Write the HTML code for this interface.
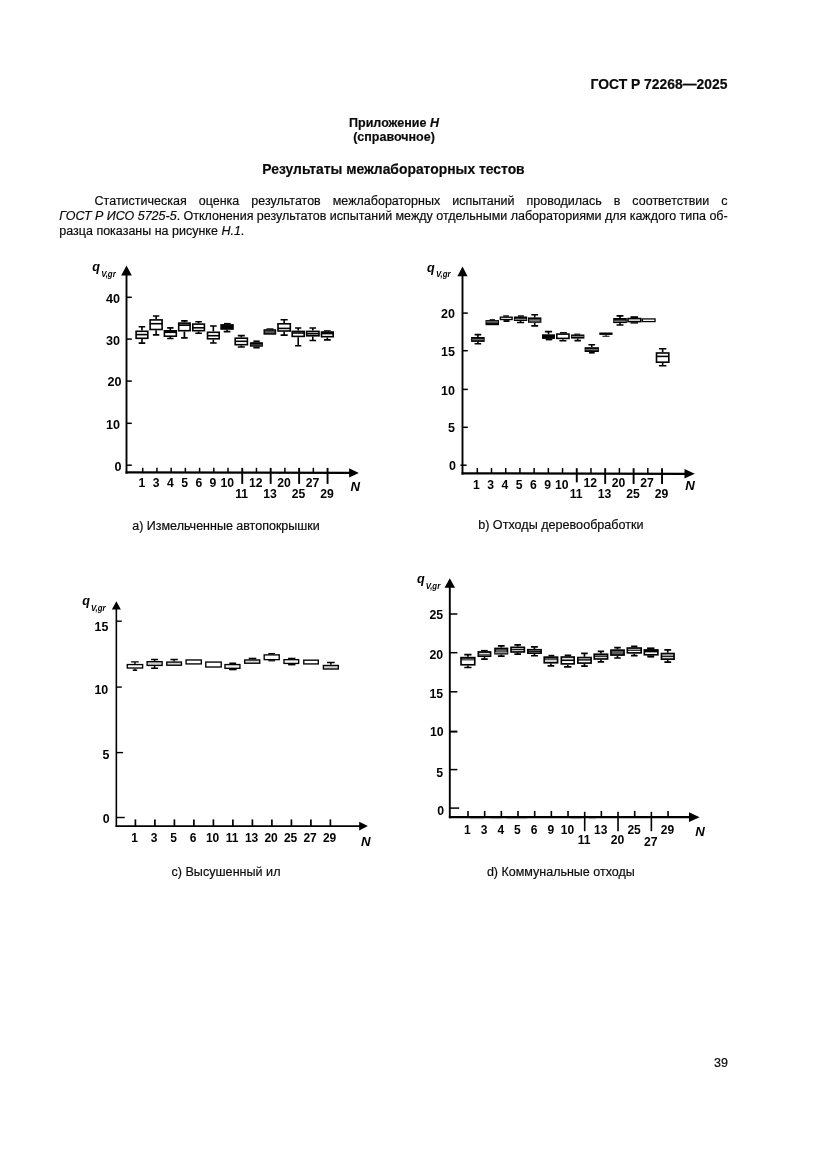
<!DOCTYPE html>
<html lang="ru"><head><meta charset="utf-8"><title>ГОСТ Р 72268—2025</title>
<style>
html,body{margin:0;padding:0;background:#fff}
body{width:827px;height:1169px;position:relative;overflow:hidden;font-family:"Liberation Sans",sans-serif;color:#0a0a0a;font-size:12.5px;line-height:15px}
.t{position:absolute;white-space:nowrap;-webkit-text-stroke:0.18px #0a0a0a}
.b{font-weight:bold}
.c{text-align:center}
.j{text-align:justify;text-align-last:justify;white-space:normal}
i{font-style:italic}
</style></head><body>
<div class="t b" style="right:99.6px;top:75.8px;font-size:13.89px;line-height:16px">ГОСТ Р 72268—2025</div>
<div class="t b c" style="left:294px;width:200px;top:115.8px">Приложение <i>Н</i></div>
<div class="t b c" style="left:294px;width:200px;top:129.5px">(справочное)</div>
<div class="t b c" style="left:243.5px;width:300px;top:161.0px;font-size:13.89px;line-height:16px">Результаты межлабораторных тестов</div>
<div class="t j" style="left:94.6px;width:633px;top:194.2px">Статистическая оценка результатов межлабораторных испытаний проводилась в соответствии с</div>
<div class="t" style="left:59.3px;top:209.4px;word-spacing:-0.08px"><i>ГОСТ Р ИСО 5725-5</i>. Отклонения результатов испытаний между отдельными лабораториями для каждого типа об-</div>
<div class="t" style="left:59.3px;top:224.2px">разца показаны на рисунке <i>Н.1</i>.</div>
<div class="t c" style="left:126px;width:200px;top:518.9px">а) Измельченные автопокрышки</div>
<div class="t c" style="left:460.9px;width:200px;top:517.7px;font-size:12.6px">b) Отходы деревообработки</div>
<div class="t c" style="left:126px;width:200px;top:864.7px;font-size:12.6px">с) Высушенный ил</div>
<div class="t c" style="left:460.8px;width:200px;top:864.7px">d) Коммунальные отходы</div>
<div class="t" style="right:99.0px;top:1056.4px;font-size:12.5px">39</div>
<svg width="827" height="1169" viewBox="0 0 827 1169" style="position:absolute;left:0;top:0" font-family="Liberation Sans, sans-serif" fill="#000" stroke="#000" stroke-linecap="butt"><path d="M126.50 274.60V473.75" stroke-width="1.9"/><path d="M125.55 472.40L350.10 472.90" stroke-width="2.2"/><path d="M126.50 265.60L121.20 275.60H131.80Z" fill="#000" stroke="none"/><path d="M358.90 472.90L349.10 468.20V477.60Z" fill="#000" stroke="none"/>
<path d="M126.50 297.30L131.80 297.30" stroke-width="1.5"/>
<text stroke="none" x="120.00" y="302.90" font-size="12.6" text-anchor="end" font-weight="bold">40</text>
<path d="M126.50 339.10L131.80 339.10" stroke-width="1.5"/>
<text stroke="none" x="120.00" y="344.80" font-size="12.6" text-anchor="end" font-weight="bold">30</text>
<path d="M126.50 381.10L131.80 381.10" stroke-width="1.5"/>
<text stroke="none" x="121.40" y="385.80" font-size="12.6" text-anchor="end" font-weight="bold">20</text>
<path d="M126.50 423.30L131.80 423.30" stroke-width="1.5"/>
<text stroke="none" x="120.10" y="429.00" font-size="12.6" text-anchor="end" font-weight="bold">10</text>
<path d="M126.50 465.20L131.80 465.20" stroke-width="1.5"/>
<text stroke="none" x="121.40" y="471.20" font-size="12.6" text-anchor="end" font-weight="bold">0</text>
<path d="M142.70 467.80L142.70 472.65" stroke-width="1.5"/>
<text stroke="none" x="141.90" y="486.70" font-size="12.2" text-anchor="middle" font-weight="bold">1</text>
<path d="M156.92 467.80L156.92 472.65" stroke-width="1.5"/>
<text stroke="none" x="156.12" y="486.70" font-size="12.2" text-anchor="middle" font-weight="bold">3</text>
<path d="M171.14 467.80L171.14 472.65" stroke-width="1.5"/>
<text stroke="none" x="170.34" y="486.70" font-size="12.2" text-anchor="middle" font-weight="bold">4</text>
<path d="M185.36 467.80L185.36 472.65" stroke-width="1.5"/>
<text stroke="none" x="184.56" y="486.70" font-size="12.2" text-anchor="middle" font-weight="bold">5</text>
<path d="M199.58 467.80L199.58 472.65" stroke-width="1.5"/>
<text stroke="none" x="198.78" y="486.70" font-size="12.2" text-anchor="middle" font-weight="bold">6</text>
<path d="M213.80 467.80L213.80 472.65" stroke-width="1.5"/>
<text stroke="none" x="213.00" y="486.70" font-size="12.2" text-anchor="middle" font-weight="bold">9</text>
<path d="M228.02 467.80L228.02 472.65" stroke-width="1.5"/>
<text stroke="none" x="227.22" y="486.70" font-size="12.2" text-anchor="middle" font-weight="bold">10</text>
<path d="M242.24 467.90L242.24 483.90" stroke-width="1.9"/>
<text stroke="none" x="241.64" y="497.60" font-size="12.2" text-anchor="middle" font-weight="bold">11</text>
<path d="M256.46 467.80L256.46 472.65" stroke-width="1.5"/>
<text stroke="none" x="255.66" y="486.70" font-size="12.2" text-anchor="middle" font-weight="bold">12</text>
<path d="M270.68 467.90L270.68 483.90" stroke-width="1.9"/>
<text stroke="none" x="270.08" y="497.60" font-size="12.2" text-anchor="middle" font-weight="bold">13</text>
<path d="M284.90 467.80L284.90 472.65" stroke-width="1.5"/>
<text stroke="none" x="284.10" y="486.70" font-size="12.2" text-anchor="middle" font-weight="bold">20</text>
<path d="M299.12 467.90L299.12 483.90" stroke-width="1.9"/>
<text stroke="none" x="298.52" y="497.60" font-size="12.2" text-anchor="middle" font-weight="bold">25</text>
<path d="M313.34 467.80L313.34 472.65" stroke-width="1.5"/>
<text stroke="none" x="312.54" y="486.70" font-size="12.2" text-anchor="middle" font-weight="bold">27</text>
<path d="M327.56 467.90L327.56 483.90" stroke-width="1.9"/>
<text stroke="none" x="326.96" y="497.60" font-size="12.2" text-anchor="middle" font-weight="bold">29</text>
<text stroke="none" x="355.20" y="490.60" font-size="13.2" text-anchor="middle" font-weight="bold" font-style="italic">N</text>
<text stroke="none" x="92.20" y="271.20" font-size="12.6" text-anchor="start" font-weight="bold" font-style="italic">q</text>
<text stroke="none" x="101.20" y="276.50" font-size="8.6" text-anchor="start" font-weight="bold" font-style="italic" textLength="14.5" lengthAdjust="spacingAndGlyphs">V,gr</text>
<path d="M141.95 330.50V326.70M138.65 326.70H145.25" stroke-width="1.6"/><path d="M141.95 339.10V343.10M138.65 343.10H145.25" stroke-width="1.6"/><rect x="136.10" y="331.30" width="11.70" height="7.00" fill="#fff" stroke-width="1.6"/><path d="M136.10 334.60H147.80" stroke-width="1.6"/>
<path d="M156.10 319.10V316.00M152.90 316.00H159.30" stroke-width="1.6"/><path d="M156.10 330.30V334.90M152.90 334.90H159.30" stroke-width="1.6"/><rect x="150.10" y="319.90" width="12.00" height="9.60" fill="#fff" stroke-width="1.6"/><path d="M150.10 323.70H162.10" stroke-width="1.6"/>
<path d="M170.35 330.00V327.80M167.15 327.80H173.55" stroke-width="1.7"/><path d="M170.35 337.00V338.50M167.15 338.50H173.55" stroke-width="1.7"/><rect x="164.40" y="330.80" width="11.90" height="5.40" fill="#fff" stroke-width="1.6"/><path d="M164.40 331.90H176.30" stroke-width="2.4"/>
<path d="M184.40 322.30V320.90M181.15 320.90H187.65" stroke-width="1.7"/><path d="M184.40 331.50V337.80M181.15 337.80H187.65" stroke-width="1.7"/><rect x="178.70" y="323.10" width="11.40" height="2.10" fill="#9a9a9a" stroke="none"/><rect x="178.70" y="325.20" width="11.40" height="5.50" fill="#fff" stroke="none"/><rect x="178.70" y="323.10" width="11.40" height="7.60" fill="none" stroke-width="1.6"/><path d="M178.70 325.20H190.10" stroke-width="1.6"/>
<path d="M198.60 323.30V321.80M195.30 321.80H201.90" stroke-width="1.6"/><path d="M198.60 331.50V333.30M195.30 333.30H201.90" stroke-width="1.6"/><rect x="192.80" y="324.10" width="11.60" height="6.60" fill="#fff" stroke-width="1.6"/><path d="M192.80 327.80H204.40" stroke-width="1.6"/>
<path d="M213.35 331.50V326.00M210.05 326.00H216.65" stroke-width="1.6"/><path d="M213.35 339.60V343.00M210.05 343.00H216.65" stroke-width="1.6"/><rect x="207.50" y="332.30" width="11.70" height="6.50" fill="#fff" stroke-width="1.6"/><path d="M207.50 335.70H219.20" stroke-width="1.6"/>
<path d="M227.05 329.80V331.60M223.70 331.60H230.40" stroke-width="1.6"/><rect x="221.10" y="324.90" width="11.90" height="4.10" fill="#000" stroke-width="1.6"/><rect x="224.00" y="322.90" width="6.70" height="1.40" fill="#000" stroke="none"/>
<path d="M241.30 337.40V335.60M237.80 335.60H244.80" stroke-width="1.6"/><path d="M241.30 345.50V347.00M237.80 347.00H244.80" stroke-width="1.6"/><rect x="235.20" y="338.20" width="12.20" height="6.50" fill="#fff" stroke-width="1.6"/><path d="M235.20 341.30H247.40" stroke-width="1.6"/>
<rect x="250.70" y="343.00" width="11.40" height="2.90" fill="#000" stroke-width="1.6"/><path d="M250.70 344.90H262.10" stroke-width="0.8" stroke="#777"/><rect x="253.40" y="340.40" width="6.30" height="1.90" fill="#000" stroke="none"/><rect x="253.40" y="346.60" width="6.30" height="1.90" fill="#000" stroke="none"/>
<rect x="264.30" y="330.00" width="11.10" height="3.90" fill="#9a9a9a" stroke-width="1.6"/><path d="M264.30 331.20H275.40" stroke-width="0.9" stroke="#222"/><path d="M264.30 332.90H275.40" stroke-width="0.9" stroke="#222"/><rect x="266.50" y="328.30" width="7.00" height="1.10" fill="#000" stroke="none"/>
<path d="M284.15 323.00V319.70M280.60 319.70H287.70" stroke-width="1.6"/><path d="M284.15 331.80V335.10M280.60 335.10H287.70" stroke-width="1.6"/><rect x="278.00" y="323.80" width="12.30" height="7.20" fill="#fff" stroke-width="1.6"/><path d="M278.00 328.40H290.30" stroke-width="1.6"/>
<path d="M298.20 330.60V328.00M295.10 328.00H301.30" stroke-width="1.6"/><path d="M298.20 337.20V345.70M295.10 345.70H301.30" stroke-width="1.6"/><rect x="292.20" y="331.40" width="12.00" height="5.00" fill="#fff" stroke-width="1.6"/><path d="M292.20 333.00H304.20" stroke-width="1.6"/>
<path d="M312.80 330.60V328.00M309.50 328.00H316.10" stroke-width="1.6"/><path d="M312.80 336.60V340.50M309.50 340.50H316.10" stroke-width="1.6"/><rect x="306.60" y="331.40" width="12.40" height="2.20" fill="#fff" stroke="none"/><rect x="306.60" y="333.60" width="12.40" height="2.20" fill="#c8c8c8" stroke="none"/><rect x="306.60" y="331.40" width="12.40" height="4.40" fill="none" stroke-width="1.6"/><path d="M306.60 333.60H319.00" stroke-width="1.6"/>
<path d="M327.35 337.50V339.90M323.95 339.90H330.75" stroke-width="1.6"/><rect x="321.50" y="332.00" width="11.70" height="2.60" fill="#000" stroke="none"/><rect x="321.50" y="334.60" width="11.70" height="2.10" fill="#fff" stroke="none"/><rect x="321.50" y="332.00" width="11.70" height="4.70" fill="none" stroke-width="1.6"/><rect x="324.00" y="330.20" width="6.70" height="1.20" fill="#000" stroke="none"/>
<path d="M462.50 275.30V474.70" stroke-width="1.9"/><path d="M461.55 473.35L685.50 473.85" stroke-width="2.2"/><path d="M462.50 266.40L457.40 276.30H467.60Z" fill="#000" stroke="none"/><path d="M694.80 473.85L684.50 469.10V478.60Z" fill="#000" stroke="none"/>
<path d="M462.50 313.10L467.80 313.10" stroke-width="1.5"/>
<text stroke="none" x="455.00" y="318.20" font-size="12.5" text-anchor="end" font-weight="bold">20</text>
<path d="M462.50 350.70L467.80 350.70" stroke-width="1.5"/>
<text stroke="none" x="455.00" y="355.80" font-size="12.5" text-anchor="end" font-weight="bold">15</text>
<path d="M462.50 389.40L467.80 389.40" stroke-width="1.5"/>
<text stroke="none" x="455.00" y="394.50" font-size="12.5" text-anchor="end" font-weight="bold">10</text>
<path d="M462.50 427.30L467.80 427.30" stroke-width="1.5"/>
<text stroke="none" x="455.00" y="432.40" font-size="12.5" text-anchor="end" font-weight="bold">5</text>
<path d="M460.50 465.20L466.60 465.20" stroke-width="1.5"/>
<text stroke="none" x="455.90" y="470.30" font-size="12.5" text-anchor="end" font-weight="bold">0</text>
<path d="M477.30 468.00L477.30 473.60" stroke-width="1.5"/>
<text stroke="none" x="476.50" y="488.80" font-size="12.2" text-anchor="middle" font-weight="bold">1</text>
<path d="M491.51 468.00L491.51 473.60" stroke-width="1.5"/>
<text stroke="none" x="490.71" y="488.80" font-size="12.2" text-anchor="middle" font-weight="bold">3</text>
<path d="M505.72 468.00L505.72 473.60" stroke-width="1.5"/>
<text stroke="none" x="504.92" y="488.80" font-size="12.2" text-anchor="middle" font-weight="bold">4</text>
<path d="M519.93 468.00L519.93 473.60" stroke-width="1.5"/>
<text stroke="none" x="519.13" y="488.80" font-size="12.2" text-anchor="middle" font-weight="bold">5</text>
<path d="M534.14 468.00L534.14 473.60" stroke-width="1.5"/>
<text stroke="none" x="533.34" y="488.80" font-size="12.2" text-anchor="middle" font-weight="bold">6</text>
<path d="M548.35 468.00L548.35 473.60" stroke-width="1.5"/>
<text stroke="none" x="547.55" y="488.80" font-size="12.2" text-anchor="middle" font-weight="bold">9</text>
<path d="M562.56 468.00L562.56 473.60" stroke-width="1.5"/>
<text stroke="none" x="561.76" y="488.80" font-size="12.2" text-anchor="middle" font-weight="bold">10</text>
<path d="M576.77 468.20L576.77 482.40" stroke-width="1.9"/>
<text stroke="none" x="576.17" y="497.60" font-size="12.2" text-anchor="middle" font-weight="bold">11</text>
<path d="M590.98 468.00L590.98 473.60" stroke-width="1.5"/>
<text stroke="none" x="590.18" y="487.20" font-size="12.2" text-anchor="middle" font-weight="bold">12</text>
<path d="M605.19 468.20L605.19 483.90" stroke-width="1.9"/>
<text stroke="none" x="604.59" y="497.60" font-size="12.2" text-anchor="middle" font-weight="bold">13</text>
<path d="M619.40 468.00L619.40 473.60" stroke-width="1.5"/>
<text stroke="none" x="618.60" y="487.20" font-size="12.2" text-anchor="middle" font-weight="bold">20</text>
<path d="M633.61 468.20L633.61 483.90" stroke-width="1.9"/>
<text stroke="none" x="633.01" y="497.60" font-size="12.2" text-anchor="middle" font-weight="bold">25</text>
<path d="M647.82 468.00L647.82 473.60" stroke-width="1.5"/>
<text stroke="none" x="647.02" y="487.20" font-size="12.2" text-anchor="middle" font-weight="bold">27</text>
<path d="M662.03 468.20L662.03 483.90" stroke-width="1.9"/>
<text stroke="none" x="661.43" y="497.60" font-size="12.2" text-anchor="middle" font-weight="bold">29</text>
<text stroke="none" x="690.10" y="490.10" font-size="13.2" text-anchor="middle" font-weight="bold" font-style="italic">N</text>
<text stroke="none" x="427.10" y="272.00" font-size="12.6" text-anchor="start" font-weight="bold" font-style="italic">q</text>
<text stroke="none" x="436.00" y="277.10" font-size="8.6" text-anchor="start" font-weight="bold" font-style="italic" textLength="14.5" lengthAdjust="spacingAndGlyphs">V,gr</text>
<path d="M477.90 337.00V334.60M474.60 334.60H481.20" stroke-width="1.6"/><path d="M477.90 341.90V343.80M474.60 343.80H481.20" stroke-width="1.6"/><rect x="471.90" y="337.80" width="12.00" height="3.30" fill="#3a3a3a" stroke-width="1.6"/><path d="M471.90 339.70H483.90" stroke-width="0.9" stroke="#7d7d7d"/>
<rect x="486.30" y="320.90" width="11.90" height="3.50" fill="#1c1c1c" stroke-width="1.6"/><path d="M486.30 321.90H498.20" stroke-width="0.9" stroke="#a8a8a8"/><rect x="489.60" y="319.20" width="5.40" height="1.10" fill="#000" stroke="none"/>
<rect x="500.38" y="317.18" width="11.75" height="2.35" fill="#fff" stroke-width="1.35"/><rect x="503.20" y="315.30" width="5.70" height="1.40" fill="#000" stroke="none"/><rect x="503.50" y="320.10" width="6.00" height="1.90" fill="#000" stroke="none"/>
<path d="M520.55 321.00V322.50M516.95 322.50H524.15" stroke-width="1.6"/><rect x="514.70" y="317.30" width="11.70" height="2.90" fill="#2a2a2a" stroke-width="1.6"/><path d="M514.70 319.40H526.40" stroke-width="0.9" stroke="#9a9a9a"/><rect x="517.90" y="315.30" width="6.00" height="1.40" fill="#000" stroke="none"/>
<path d="M534.70 317.40V314.70M531.30 314.70H538.10" stroke-width="1.6"/><path d="M534.70 322.80V325.90M531.30 325.90H538.10" stroke-width="1.6"/><rect x="528.80" y="318.20" width="11.80" height="3.80" fill="#6e6e6e" stroke-width="1.6"/><path d="M528.80 319.60H540.60" stroke-width="0.8" stroke="#444"/><path d="M528.80 321.00H540.60" stroke-width="0.8" stroke="#999"/>
<path d="M548.50 334.30V331.60M544.90 331.60H552.10" stroke-width="1.6"/><rect x="542.80" y="335.10" width="11.40" height="3.00" fill="#000" stroke-width="1.6"/><rect x="545.70" y="338.80" width="6.60" height="1.60" fill="#000" stroke="none"/>
<path d="M562.90 339.20V340.70M559.40 340.70H566.40" stroke-width="1.6"/><rect x="556.80" y="334.10" width="12.20" height="4.30" fill="#fff" stroke-width="1.6"/><rect x="560.00" y="332.10" width="6.90" height="1.40" fill="#000" stroke="none"/>
<path d="M577.70 338.60V340.60M574.50 340.60H580.90" stroke-width="1.6"/><rect x="571.80" y="335.30" width="11.80" height="2.50" fill="#2a2a2a" stroke-width="1.6"/><path d="M571.80 336.40H583.60" stroke-width="0.9" stroke="#999"/><rect x="574.20" y="333.60" width="6.00" height="1.10" fill="#000" stroke="none"/>
<path d="M591.75 347.20V344.80M588.40 344.80H595.10" stroke-width="1.6"/><rect x="585.40" y="348.00" width="12.70" height="3.20" fill="#2a2a2a" stroke-width="1.6"/><path d="M585.40 349.70H598.10" stroke-width="0.9" stroke="#8a8a8a"/><rect x="589.00" y="351.90" width="5.70" height="1.70" fill="#000" stroke="none"/>
<path d="M605.95 334.90V336.20M602.35 336.20H609.55" stroke-width="1.1"/><rect x="600.10" y="333.30" width="11.70" height="0.80" fill="#000" stroke-width="1.6"/>
<path d="M620.00 318.00V315.90M616.55 315.90H623.45" stroke-width="1.6"/><path d="M620.00 323.10V325.00M616.55 325.00H623.45" stroke-width="1.6"/><rect x="614.00" y="318.80" width="12.00" height="3.50" fill="#2a2a2a" stroke-width="1.6"/><path d="M614.00 321.20H626.00" stroke-width="0.9" stroke="#a0a0a0"/>
<rect x="628.00" y="318.60" width="12.80" height="3.00" fill="#fff" stroke-width="1.6"/><rect x="630.50" y="316.20" width="7.50" height="1.80" fill="#000" stroke="none"/><rect x="630.50" y="322.20" width="7.50" height="1.40" fill="#000" stroke="none"/>
<rect x="642.42" y="318.93" width="12.65" height="2.65" fill="#fff" stroke-width="1.25"/>
<path d="M662.65 352.20V348.80M658.95 348.80H666.35" stroke-width="1.6"/><path d="M662.65 363.00V365.80M658.95 365.80H666.35" stroke-width="1.6"/><rect x="656.50" y="353.00" width="12.30" height="9.20" fill="#fff" stroke-width="1.6"/><path d="M656.50 356.40H668.80" stroke-width="1.6"/>
<path d="M116.35 608.60V826.90" stroke-width="1.6"/><path d="M115.55 826.10L360.20 826.10" stroke-width="1.6"/><path d="M116.35 601.30L111.85 609.60H120.85Z" fill="#000" stroke="none"/><path d="M367.90 826.10L359.20 821.75V830.45Z" fill="#000" stroke="none"/>
<path d="M116.35 621.20L121.80 621.20" stroke-width="1.4"/>
<text stroke="none" x="108.30" y="630.60" font-size="12.4" text-anchor="end" font-weight="bold">15</text>
<path d="M116.35 687.10L121.80 687.10" stroke-width="1.4"/>
<text stroke="none" x="108.20" y="693.70" font-size="12.4" text-anchor="end" font-weight="bold">10</text>
<path d="M116.35 752.60L123.10 752.60" stroke-width="1.4"/>
<text stroke="none" x="109.30" y="758.60" font-size="12.4" text-anchor="end" font-weight="bold">5</text>
<path d="M116.35 817.50L124.80 817.50" stroke-width="1.4"/>
<text stroke="none" x="109.70" y="823.40" font-size="12.4" text-anchor="end" font-weight="bold">0</text>
<path d="M135.40 819.40L135.40 826.10" stroke-width="1.7"/>
<text stroke="none" x="134.60" y="841.80" font-size="12.0" text-anchor="middle" font-weight="bold">1</text>
<path d="M154.90 819.40L154.90 826.10" stroke-width="1.7"/>
<text stroke="none" x="154.10" y="841.80" font-size="12.0" text-anchor="middle" font-weight="bold">3</text>
<path d="M174.40 819.40L174.40 826.10" stroke-width="1.7"/>
<text stroke="none" x="173.60" y="841.80" font-size="12.0" text-anchor="middle" font-weight="bold">5</text>
<path d="M193.90 819.40L193.90 826.10" stroke-width="1.7"/>
<text stroke="none" x="193.10" y="841.80" font-size="12.0" text-anchor="middle" font-weight="bold">6</text>
<path d="M213.40 819.40L213.40 826.10" stroke-width="1.7"/>
<text stroke="none" x="212.60" y="841.80" font-size="12.0" text-anchor="middle" font-weight="bold">10</text>
<path d="M232.90 819.40L232.90 826.10" stroke-width="1.7"/>
<text stroke="none" x="232.10" y="841.80" font-size="12.0" text-anchor="middle" font-weight="bold">11</text>
<path d="M252.40 819.40L252.40 826.10" stroke-width="1.7"/>
<text stroke="none" x="251.60" y="841.80" font-size="12.0" text-anchor="middle" font-weight="bold">13</text>
<path d="M271.90 819.40L271.90 826.10" stroke-width="1.7"/>
<text stroke="none" x="271.10" y="841.80" font-size="12.0" text-anchor="middle" font-weight="bold">20</text>
<path d="M291.40 819.40L291.40 826.10" stroke-width="1.7"/>
<text stroke="none" x="290.60" y="841.80" font-size="12.0" text-anchor="middle" font-weight="bold">25</text>
<path d="M310.90 819.40L310.90 826.10" stroke-width="1.7"/>
<text stroke="none" x="310.10" y="841.80" font-size="12.0" text-anchor="middle" font-weight="bold">27</text>
<path d="M330.40 819.40L330.40 826.10" stroke-width="1.7"/>
<text stroke="none" x="329.60" y="841.80" font-size="12.0" text-anchor="middle" font-weight="bold">29</text>
<text stroke="none" x="365.80" y="845.70" font-size="13.2" text-anchor="middle" font-weight="bold" font-style="italic">N</text>
<text stroke="none" x="82.20" y="605.10" font-size="12.6" text-anchor="start" font-weight="bold" font-style="italic">q</text>
<text stroke="none" x="91.00" y="610.70" font-size="8.6" text-anchor="start" font-weight="bold" font-style="italic" textLength="14.5" lengthAdjust="spacingAndGlyphs">V,gr</text>
<path d="M134.95 663.90V661.90M131.15 661.90H138.75" stroke-width="1.35"/><path d="M134.95 668.70V670.20M132.75 670.20H137.15" stroke-width="1.35"/><rect x="127.27" y="664.57" width="15.35" height="3.45" fill="#fff" stroke-width="1.35"/>
<path d="M154.60 661.00V659.50M151.10 659.50H158.10" stroke-width="1.5"/><path d="M154.60 666.10V668.20M151.10 668.20H158.10" stroke-width="1.5"/><rect x="147.08" y="661.67" width="15.05" height="3.75" fill="#d0d0d0" stroke-width="1.35"/>
<path d="M174.10 661.40V659.50M170.40 659.50H177.80" stroke-width="1.5"/><rect x="166.78" y="662.07" width="14.65" height="3.15" fill="#d0d0d0" stroke-width="1.35"/>
<rect x="186.08" y="659.97" width="15.25" height="3.95" fill="#fff" stroke-width="1.35"/>
<rect x="205.78" y="662.07" width="15.45" height="4.95" fill="#fff" stroke-width="1.35"/>
<rect x="224.98" y="664.57" width="14.95" height="3.75" fill="#f0f0f0" stroke-width="1.35"/><rect x="229.30" y="662.50" width="6.80" height="1.50" fill="#000" stroke="none"/><rect x="229.00" y="668.90" width="7.60" height="1.40" fill="#000" stroke="none"/>
<rect x="244.68" y="659.97" width="15.05" height="3.25" fill="#d8d8d8" stroke-width="1.35"/><rect x="248.70" y="657.70" width="7.60" height="1.70" fill="#000" stroke="none"/>
<rect x="264.18" y="654.88" width="15.05" height="4.75" fill="#fff" stroke-width="1.35"/><rect x="268.30" y="653.00" width="6.80" height="1.30" fill="#000" stroke="none"/><rect x="268.30" y="660.20" width="6.80" height="1.20" fill="#000" stroke="none"/>
<rect x="283.98" y="659.67" width="14.65" height="3.75" fill="#fff" stroke-width="1.35"/><rect x="288.10" y="657.70" width="7.30" height="1.40" fill="#000" stroke="none"/><rect x="288.10" y="664.00" width="7.30" height="1.40" fill="#000" stroke="none"/>
<rect x="303.78" y="660.17" width="14.55" height="3.75" fill="#fff" stroke-width="1.35"/>
<path d="M330.85 664.80V662.40M327.05 662.40H334.65" stroke-width="1.5"/><rect x="323.38" y="665.47" width="14.95" height="3.55" fill="#d0d0d0" stroke-width="1.35"/>
<path d="M449.80 586.80V818.20" stroke-width="1.9"/><path d="M448.85 817.15L690.00 817.15" stroke-width="2.1"/><path d="M449.80 578.30L444.55 587.80H455.05Z" fill="#000" stroke="none"/><path d="M699.60 817.15L689.00 812.20V822.10Z" fill="#000" stroke="none"/>
<path d="M449.80 614.00L457.40 614.00" stroke-width="1.5"/>
<text stroke="none" x="443.10" y="618.90" font-size="12.3" text-anchor="end" font-weight="bold">25</text>
<path d="M449.80 652.70L457.40 652.70" stroke-width="1.5"/>
<text stroke="none" x="443.10" y="658.90" font-size="12.3" text-anchor="end" font-weight="bold">20</text>
<path d="M449.80 691.80L457.40 691.80" stroke-width="1.5"/>
<text stroke="none" x="443.10" y="697.60" font-size="12.3" text-anchor="end" font-weight="bold">15</text>
<path d="M449.80 731.60L457.40 731.60" stroke-width="2.0"/>
<text stroke="none" x="443.70" y="735.80" font-size="12.3" text-anchor="end" font-weight="bold">10</text>
<path d="M449.80 769.60L457.40 769.60" stroke-width="1.5"/>
<text stroke="none" x="443.10" y="776.90" font-size="12.3" text-anchor="end" font-weight="bold">5</text>
<path d="M449.80 808.10L459.20 808.10" stroke-width="1.5"/>
<text stroke="none" x="444.10" y="815.10" font-size="12.3" text-anchor="end" font-weight="bold">0</text>
<path d="M468.00 810.90L468.00 817.15" stroke-width="1.6"/>
<text stroke="none" x="467.40" y="833.80" font-size="12.0" text-anchor="middle" font-weight="bold">1</text>
<path d="M484.67 810.90L484.67 817.15" stroke-width="1.6"/>
<text stroke="none" x="484.07" y="833.80" font-size="12.0" text-anchor="middle" font-weight="bold">3</text>
<path d="M501.34 810.90L501.34 817.15" stroke-width="1.6"/>
<text stroke="none" x="500.74" y="833.80" font-size="12.0" text-anchor="middle" font-weight="bold">4</text>
<path d="M518.01 810.90L518.01 817.15" stroke-width="1.6"/>
<text stroke="none" x="517.41" y="833.80" font-size="12.0" text-anchor="middle" font-weight="bold">5</text>
<path d="M534.68 810.90L534.68 817.15" stroke-width="1.6"/>
<text stroke="none" x="534.08" y="833.80" font-size="12.0" text-anchor="middle" font-weight="bold">6</text>
<path d="M551.35 810.90L551.35 817.15" stroke-width="1.6"/>
<text stroke="none" x="550.75" y="833.80" font-size="12.0" text-anchor="middle" font-weight="bold">9</text>
<path d="M568.02 810.90L568.02 817.15" stroke-width="1.6"/>
<text stroke="none" x="567.42" y="833.80" font-size="12.0" text-anchor="middle" font-weight="bold">10</text>
<path d="M584.69 811.80L584.69 831.20" stroke-width="1.6"/>
<text stroke="none" x="584.19" y="844.00" font-size="12.2" text-anchor="middle" font-weight="bold">11</text>
<path d="M601.36 810.90L601.36 817.15" stroke-width="1.6"/>
<text stroke="none" x="600.76" y="833.80" font-size="12.0" text-anchor="middle" font-weight="bold">13</text>
<path d="M618.03 811.80L618.03 831.20" stroke-width="1.6"/>
<text stroke="none" x="617.53" y="844.00" font-size="12.2" text-anchor="middle" font-weight="bold">20</text>
<path d="M634.70 810.90L634.70 817.15" stroke-width="1.6"/>
<text stroke="none" x="634.10" y="833.80" font-size="12.0" text-anchor="middle" font-weight="bold">25</text>
<path d="M651.37 811.80L651.37 831.20" stroke-width="1.6"/>
<text stroke="none" x="650.87" y="845.50" font-size="12.2" text-anchor="middle" font-weight="bold">27</text>
<path d="M668.04 810.90L668.04 817.15" stroke-width="1.6"/>
<text stroke="none" x="667.44" y="833.80" font-size="12.0" text-anchor="middle" font-weight="bold">29</text>
<text stroke="none" x="700.00" y="835.50" font-size="13.2" text-anchor="middle" font-weight="bold" font-style="italic">N</text>
<text stroke="none" x="416.90" y="583.10" font-size="12.6" text-anchor="start" font-weight="bold" font-style="italic">q</text>
<text stroke="none" x="425.70" y="588.70" font-size="8.6" text-anchor="start" font-weight="bold" font-style="italic" textLength="14.5" lengthAdjust="spacingAndGlyphs">V,gr</text>
<path d="M467.90 656.80V654.60M464.30 654.60H471.50" stroke-width="1.65"/><path d="M467.90 665.60V667.50M464.30 667.50H471.50" stroke-width="1.65"/><rect x="461.02" y="657.62" width="13.75" height="3.08" fill="#5a5a5a" stroke="none"/><rect x="461.02" y="660.70" width="13.75" height="4.07" fill="#fff" stroke="none"/><rect x="461.02" y="657.62" width="13.75" height="7.15" fill="none" stroke-width="1.65"/>
<path d="M484.45 657.00V659.10M481.15 659.10H487.75" stroke-width="1.65"/><rect x="478.32" y="651.93" width="12.25" height="1.47" fill="#777" stroke="none"/><rect x="478.32" y="653.40" width="12.25" height="2.77" fill="#e4e4e4" stroke="none"/><rect x="478.32" y="651.93" width="12.25" height="4.25" fill="none" stroke-width="1.65"/><path d="M478.32 654.70H490.57" stroke-width="0.9" stroke="#333"/><rect x="481.10" y="649.90" width="6.60" height="1.40" fill="#000" stroke="none"/>
<path d="M501.25 647.60V645.80M497.85 645.80H504.65" stroke-width="1.65"/><path d="M501.25 654.50V656.10M497.85 656.10H504.65" stroke-width="1.65"/><rect x="495.02" y="648.43" width="12.45" height="5.25" fill="#606060" stroke-width="1.65"/><path d="M495.02 652.80H507.48" stroke-width="0.9" stroke="#bdbdbd"/>
<path d="M517.70 646.50V644.90M514.40 644.90H521.00" stroke-width="1.65"/><path d="M517.70 652.80V654.10M514.40 654.10H521.00" stroke-width="1.65"/><rect x="511.02" y="647.33" width="13.35" height="4.65" fill="#d4d4d4" stroke-width="1.65"/><path d="M511.02 649.60H524.38" stroke-width="1.0"/>
<path d="M534.45 648.90V646.90M531.00 646.90H537.90" stroke-width="1.65"/><path d="M534.45 654.00V655.70M531.00 655.70H537.90" stroke-width="1.65"/><rect x="527.83" y="649.73" width="13.25" height="3.45" fill="#d4d4d4" stroke-width="1.65"/><path d="M527.83 651.40H541.07" stroke-width="1.0"/>
<path d="M550.90 663.60V665.80M547.55 665.80H554.25" stroke-width="1.65"/><rect x="544.23" y="657.12" width="13.35" height="2.98" fill="#555" stroke="none"/><rect x="544.23" y="660.10" width="13.35" height="2.67" fill="#d4d4d4" stroke="none"/><rect x="544.23" y="657.12" width="13.35" height="5.65" fill="none" stroke-width="1.65"/><rect x="548.50" y="654.80" width="5.80" height="1.70" fill="#000" stroke="none"/>
<path d="M567.75 664.70V666.80M564.05 666.80H571.45" stroke-width="1.65"/><rect x="561.33" y="657.03" width="12.85" height="3.27" fill="#dcdcdc" stroke="none"/><rect x="561.33" y="660.30" width="12.85" height="3.58" fill="#fff" stroke="none"/><rect x="561.33" y="657.03" width="12.85" height="6.85" fill="none" stroke-width="1.65"/><path d="M561.33 660.30H574.17" stroke-width="1.5"/><rect x="564.70" y="654.50" width="6.50" height="1.90" fill="#000" stroke="none"/>
<path d="M584.45 656.70V653.40M581.15 653.40H587.75" stroke-width="1.65"/><path d="M584.45 663.90V666.10M581.15 666.10H587.75" stroke-width="1.65"/><rect x="577.83" y="657.53" width="13.25" height="2.37" fill="#ececec" stroke="none"/><rect x="577.83" y="659.90" width="13.25" height="3.17" fill="#fff" stroke="none"/><rect x="577.83" y="657.53" width="13.25" height="5.55" fill="none" stroke-width="1.65"/><path d="M577.83 659.90H591.07" stroke-width="1.4"/>
<path d="M600.90 653.40V651.40M597.70 651.40H604.10" stroke-width="1.65"/><path d="M600.90 659.80V661.80M597.70 661.80H604.10" stroke-width="1.65"/><rect x="594.23" y="654.23" width="13.35" height="2.07" fill="#9a9a9a" stroke="none"/><rect x="594.23" y="656.30" width="13.35" height="2.67" fill="#d8d8d8" stroke="none"/><rect x="594.23" y="654.23" width="13.35" height="4.75" fill="none" stroke-width="1.65"/><path d="M594.23 656.30H607.57" stroke-width="1.0"/>
<path d="M617.50 649.30V647.60M614.25 647.60H620.75" stroke-width="1.65"/><path d="M617.50 655.90V658.00M614.25 658.00H620.75" stroke-width="1.65"/><rect x="610.93" y="650.12" width="13.15" height="4.95" fill="#5c5c5c" stroke-width="1.65"/>
<path d="M634.25 653.70V655.60M630.95 655.60H637.55" stroke-width="1.65"/><rect x="627.33" y="648.03" width="13.85" height="2.27" fill="#c8c8c8" stroke="none"/><rect x="627.33" y="650.30" width="13.85" height="2.58" fill="#fff" stroke="none"/><rect x="627.33" y="648.03" width="13.85" height="4.85" fill="none" stroke-width="1.65"/><path d="M627.33 650.30H641.17" stroke-width="1.0"/><rect x="631.10" y="645.50" width="6.30" height="1.90" fill="#000" stroke="none"/>
<rect x="644.33" y="649.93" width="13.55" height="2.67" fill="#000" stroke="none"/><rect x="644.33" y="652.60" width="13.55" height="2.17" fill="#fff" stroke="none"/><rect x="644.33" y="649.93" width="13.55" height="4.85" fill="none" stroke-width="1.65"/><rect x="647.10" y="647.40" width="7.30" height="1.90" fill="#000" stroke="none"/><rect x="647.30" y="655.40" width="6.90" height="2.20" fill="#000" stroke="none"/>
<path d="M667.75 652.70V649.80M664.35 649.80H671.15" stroke-width="1.65"/><path d="M667.75 660.00V662.10M664.35 662.10H671.15" stroke-width="1.65"/><rect x="661.43" y="653.53" width="12.65" height="5.65" fill="#d0d0d0" stroke-width="1.65"/><path d="M661.43 656.30H674.07" stroke-width="1.1"/>
<path d="M470 818.6H484" stroke="#8c8c8c" stroke-width="0.8"/>
<path d="M490.5 818.6H501.5" stroke="#8c8c8c" stroke-width="0.8"/>
<path d="M506 818.6H527.5" stroke="#8c8c8c" stroke-width="0.8"/>
<path d="M570 818.6H582" stroke="#8c8c8c" stroke-width="0.8"/>
<path d="M589 818.6H596" stroke="#8c8c8c" stroke-width="0.8"/></svg>
</body></html>
